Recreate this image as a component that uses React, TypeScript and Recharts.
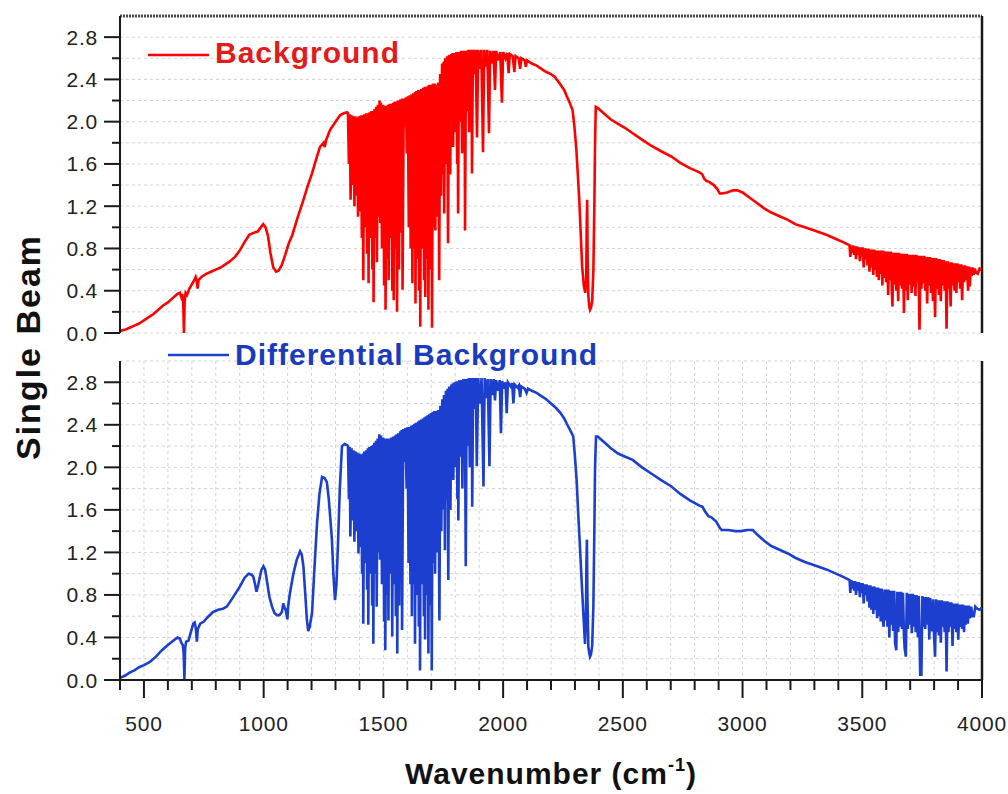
import React from "react";
import { LineChart, Line, XAxis, YAxis, CartesianGrid, ReferenceLine } from "recharts";

// ---------- tick values / labels ----------
const xTickValues = [400, 500, 600, 700, 800, 900, 1000, 1100, 1200, 1300, 1400, 1500, 1600, 1700, 1800, 1900, 2000, 2100, 2200, 2300, 2400, 2500, 2600, 2700, 2800, 2900, 3000, 3100, 3200, 3300, 3400, 3500, 3600, 3700, 3800, 3900, 4000];
const xTickLabels = ["500", "1000", "1500", "2000", "2500", "3000", "3500", "4000"];
const yTickValues = [0, 0.2, 0.4, 0.6, 0.8, 1.0, 1.2, 1.4, 1.6, 1.8, 2.0, 2.2, 2.4, 2.6, 2.8];
const yTickLabels = ["0.0", "0.4", "0.8", "1.2", "1.6", "2.0", "2.4", "2.8"];

// ---------- Background (red) spectrum: [wavenumber, single beam] ----------
const backgroundLowBand: [number, number][] = [
  [400, 0.02], [420, 0.03], [440, 0.05], [460, 0.07], [480, 0.09], [500, 0.12], [520, 0.15], [540, 0.18], [560, 0.22], [580, 0.26],
  [600, 0.29], [620, 0.33], [640, 0.37], [650, 0.38], [656, 0.34], [660, 0.37], [664, 0.30], [667, 0.0], [670, 0.30], [674, 0.38],
  [680, 0.36], [690, 0.42], [700, 0.46], [710, 0.50], [716, 0.53], [720, 0.50], [724, 0.42], [728, 0.50], [740, 0.53], [760, 0.56],
  [780, 0.58], [800, 0.60], [820, 0.62], [840, 0.65], [860, 0.68], [880, 0.72], [900, 0.78], [920, 0.86], [940, 0.93], [960, 0.95],
  [975, 0.96], [985, 0.99], [998, 1.03], [1008, 1.0], [1018, 0.92], [1028, 0.76], [1040, 0.62], [1052, 0.58], [1062, 0.59], [1075, 0.64],
  [1090, 0.74], [1105, 0.85], [1120, 0.93], [1140, 1.08], [1166, 1.26], [1185, 1.40], [1202, 1.51], [1220, 1.65], [1235, 1.76], [1250, 1.80],
  [1255, 1.76], [1260, 1.82], [1277, 1.92], [1300, 2.0], [1319, 2.06], [1335, 2.08], [1348, 2.09],
];
const backgroundWaterBand: [number, number][] = [
  [1352, 2.08], [1356, 1.60], [1360, 2.07], [1363, 1.26], [1367, 2.06], [1371, 1.40], [1375, 2.05], [1379, 1.20], [1383, 2.05], [1387, 1.30],
  [1391, 2.04], [1394, 1.10], [1398, 2.05], [1402, 1.15], [1406, 2.06], [1410, 0.90], [1413, 2.06], [1416, 0.50], [1420, 2.07], [1424, 1.00],
  [1428, 2.08], [1432, 0.75], [1436, 2.08], [1438, 0.47], [1442, 2.09], [1446, 0.90], [1450, 2.10], [1454, 0.60], [1457, 2.10], [1459, 0.29],
  [1463, 2.12], [1467, 0.90], [1470, 2.14], [1473, 0.67], [1477, 2.16], [1481, 1.10], [1484, 2.20], [1487, 1.04], [1490, 2.18], [1494, 0.80],
  [1499, 2.16], [1503, 0.45], [1507, 2.15], [1509, 0.22], [1513, 2.15], [1517, 0.70], [1520, 2.16], [1522, 0.50], [1526, 2.17], [1530, 0.90],
  [1534, 2.17], [1537, 0.40], [1541, 2.18], [1543, 0.31], [1547, 2.19], [1551, 0.80], [1554, 2.19], [1557, 0.20], [1561, 2.20], [1565, 0.60],
  [1570, 2.21], [1574, 0.95], [1578, 2.22], [1580, 0.41], [1585, 2.22], [1590, 1.95], [1594, 2.23], [1598, 1.70], [1602, 2.24], [1606, 1.00],
  [1610, 2.25], [1614, 0.80], [1618, 2.26], [1621, 0.47], [1625, 2.27], [1629, 0.80], [1632, 2.28], [1634, 0.28], [1638, 2.29], [1642, 0.70],
  [1646, 2.30], [1649, 0.40], [1652, 2.30], [1654, 0.06], [1658, 2.31], [1662, 0.80], [1666, 2.32], [1670, 0.50], [1673, 2.33], [1675, 0.34],
  [1679, 2.33], [1683, 0.70], [1686, 2.34], [1688, 0.22], [1692, 2.35], [1696, 0.60], [1700, 2.35], [1703, 0.05], [1707, 2.36], [1711, 1.00],
  [1714, 2.36], [1717, 0.97], [1721, 2.35], [1725, 1.10], [1729, 2.37], [1733, 0.50], [1737, 2.45], [1741, 1.30], [1745, 2.55], [1750, 1.50],
  [1752, 2.57], [1754, 1.13], [1758, 2.60], [1762, 1.60], [1766, 2.62], [1770, 0.85], [1774, 2.63], [1779, 1.50], [1783, 2.64], [1787, 1.80],
  [1789, 2.65], [1791, 1.76], [1796, 2.65], [1801, 1.90], [1805, 2.66], [1808, 1.60], [1810, 2.66], [1812, 1.13], [1816, 2.66], [1820, 2.00],
  [1824, 2.67], [1829, 1.70], [1833, 2.67], [1837, 2.00], [1839, 2.67], [1841, 0.97], [1845, 2.67], [1850, 2.10], [1854, 2.68], [1858, 1.90],
  [1862, 2.68], [1866, 2.20], [1868, 2.68], [1870, 1.51], [1874, 2.68], [1880, 2.45], [1885, 2.68], [1891, 1.85], [1896, 2.68], [1903, 2.50],
  [1909, 2.68], [1916, 1.71], [1921, 2.68], [1928, 2.52], [1934, 2.68], [1941, 1.89], [1946, 2.67], [1954, 2.55], [1960, 2.67], [1966, 2.30],
  [1971, 2.67], [1980, 2.58], [1988, 2.66], [1995, 2.18], [2000, 2.66], [2010, 2.60], [2017, 2.65], [2023, 2.46], [2028, 2.64], [2040, 2.62],
  [2047, 2.47], [2052, 2.62], [2065, 2.60], [2071, 2.50], [2076, 2.60], [2090, 2.58], [2095, 2.52], [2100, 2.58], [2120, 2.55], [2140, 2.53],
  [2160, 2.50], [2180, 2.47], [2200, 2.45],
];
const backgroundCO2Band: [number, number][] = [
  [2217, 2.42], [2240, 2.35], [2255, 2.30], [2266, 2.24], [2278, 2.18], [2290, 2.11], [2298, 1.95], [2306, 1.73], [2312, 1.50], [2318, 1.26],
  [2324, 0.95], [2330, 0.63], [2337, 0.45], [2343, 0.38], [2347, 0.50], [2349, 1.00], [2351, 1.26], [2353, 0.70], [2356, 0.35], [2360, 0.25],
  [2363, 0.22], [2367, 0.24], [2372, 0.30], [2377, 0.60], [2381, 1.20], [2384, 1.80], [2387, 2.14], [2395, 2.13],
];
const backgroundHighBand: [number, number][] = [
  [2420, 2.08], [2450, 2.02], [2480, 1.98], [2510, 1.94], [2541, 1.89], [2580, 1.83], [2620, 1.77], [2660, 1.72], [2703, 1.67], [2740, 1.61],
  [2780, 1.56], [2820, 1.52], [2832, 1.50], [2840, 1.46], [2849, 1.44], [2860, 1.43], [2880, 1.40], [2895, 1.36], [2905, 1.32], [2915, 1.32],
  [2935, 1.33], [2960, 1.35], [2978, 1.35], [3000, 1.33], [3030, 1.28], [3060, 1.23], [3090, 1.18], [3120, 1.14], [3150, 1.11], [3189, 1.07],
  [3220, 1.03], [3260, 1.00], [3300, 0.97], [3350, 0.93], [3390, 0.89], [3420, 0.86], [3447, 0.83],
  [3450, 0.72], [3454, 0.83], [3458, 0.76], [3462, 0.83], [3466, 0.74], [3470, 0.82], [3474, 0.70], [3478, 0.82], [3482, 0.74], [3486, 0.81],
  [3490, 0.68], [3494, 0.81], [3498, 0.72], [3502, 0.81], [3506, 0.62], [3510, 0.80], [3514, 0.70], [3518, 0.80], [3522, 0.64], [3526, 0.80],
  [3530, 0.58], [3534, 0.79], [3538, 0.62], [3542, 0.79], [3546, 0.55], [3550, 0.79], [3554, 0.60], [3558, 0.78], [3561, 0.53], [3565, 0.78],
  [3569, 0.50], [3573, 0.78], [3577, 0.56], [3581, 0.78], [3584, 0.45], [3588, 0.78], [3592, 0.52], [3596, 0.77], [3600, 0.48], [3604, 0.77],
  [3608, 0.36], [3612, 0.77], [3616, 0.50], [3620, 0.77], [3623, 0.42], [3626, 0.25], [3630, 0.76], [3634, 0.46], [3638, 0.76], [3642, 0.40],
  [3646, 0.76], [3650, 0.30], [3654, 0.76], [3658, 0.45], [3662, 0.75], [3666, 0.42], [3670, 0.75], [3674, 0.19], [3678, 0.75], [3682, 0.40],
  [3686, 0.75], [3690, 0.31], [3694, 0.74], [3698, 0.46], [3702, 0.74], [3706, 0.38], [3710, 0.74], [3714, 0.44], [3718, 0.74], [3722, 0.35],
  [3726, 0.74], [3730, 0.48], [3734, 0.73], [3739, 0.03], [3743, 0.73], [3747, 0.42], [3751, 0.73], [3755, 0.47], [3759, 0.73], [3763, 0.40],
  [3767, 0.72], [3771, 0.28], [3775, 0.72], [3779, 0.45], [3783, 0.72], [3787, 0.38], [3791, 0.71], [3795, 0.30], [3799, 0.71], [3804, 0.15],
  [3808, 0.71], [3812, 0.42], [3816, 0.70], [3820, 0.36], [3824, 0.70], [3828, 0.30], [3832, 0.69], [3836, 0.45], [3840, 0.69], [3844, 0.40],
  [3848, 0.68], [3852, 0.04], [3856, 0.68], [3860, 0.42], [3864, 0.67], [3869, 0.25], [3873, 0.67], [3877, 0.45], [3881, 0.66], [3885, 0.40],
  [3889, 0.66], [3893, 0.38], [3897, 0.66], [3901, 0.48], [3905, 0.65], [3909, 0.42], [3913, 0.65], [3917, 0.31], [3921, 0.64], [3925, 0.48],
  [3929, 0.64], [3933, 0.50], [3937, 0.63], [3942, 0.40], [3946, 0.63], [3949, 0.44], [3953, 0.62], [3957, 0.54], [3961, 0.62], [3965, 0.55],
  [3970, 0.61], [3975, 0.57], [3982, 0.56], [3990, 0.61], [4000, 0.60],
];

// ---------- Differential Background (blue) spectrum ----------
const differentialLowBand: [number, number][] = [
  [400, 0.02], [420, 0.04], [440, 0.07], [460, 0.09], [480, 0.12], [500, 0.14], [525, 0.17], [550, 0.22], [575, 0.28], [600, 0.33],
  [622, 0.37], [640, 0.40], [650, 0.39], [656, 0.35], [662, 0.33], [666, 0.25], [669, 0.01], [672, 0.30], [676, 0.36], [686, 0.37],
  [696, 0.45], [706, 0.53], [712, 0.54], [717, 0.48], [721, 0.36], [725, 0.48], [735, 0.53], [750, 0.55], [770, 0.60], [789, 0.64],
  [810, 0.66], [830, 0.67], [846, 0.69], [870, 0.77], [901, 0.88], [920, 0.96], [937, 1.00], [950, 0.99], [957, 0.97], [964, 0.90],
  [970, 0.83], [978, 0.90], [990, 1.03], [999, 1.07], [1006, 1.04], [1013, 0.94], [1024, 0.78], [1035, 0.69], [1045, 0.63], [1055, 0.61],
  [1066, 0.61], [1076, 0.64], [1082, 0.72], [1087, 0.68], [1092, 0.66], [1097, 0.60], [1099, 0.57], [1102, 0.69], [1110, 0.82], [1124, 1.00],
  [1138, 1.13], [1152, 1.21], [1159, 1.18], [1166, 1.07], [1174, 0.80], [1180, 0.58], [1186, 0.46], [1192, 0.50], [1202, 0.63], [1212, 1.05],
  [1223, 1.48], [1233, 1.75], [1244, 1.91], [1254, 1.90], [1264, 1.86], [1272, 1.70], [1279, 1.50], [1285, 1.32], [1291, 1.00], [1298, 0.75],
  [1304, 0.90], [1311, 1.32], [1318, 1.80], [1327, 2.20], [1338, 2.22], [1348, 2.21],
];
const differentialWaterBand: [number, number][] = [
  [1352, 2.20], [1356, 1.70], [1360, 2.19], [1362, 1.35], [1367, 2.18], [1371, 1.50], [1375, 2.16], [1379, 1.30], [1383, 2.15], [1387, 1.40],
  [1391, 2.14], [1396, 1.19], [1400, 2.13], [1403, 1.25], [1407, 2.12], [1411, 1.00], [1414, 2.13], [1416, 0.53], [1420, 2.15], [1424, 1.10],
  [1428, 2.16], [1432, 0.85], [1435, 2.18], [1437, 0.52], [1441, 2.19], [1446, 1.00], [1450, 2.20], [1453, 0.70], [1456, 2.21], [1458, 0.34],
  [1462, 2.23], [1466, 1.00], [1469, 2.25], [1472, 0.69], [1476, 2.27], [1480, 1.20], [1483, 2.31], [1486, 1.13], [1490, 2.30], [1494, 0.90],
  [1499, 2.28], [1503, 0.55], [1506, 2.27], [1508, 0.28], [1512, 2.27], [1516, 0.80], [1519, 2.27], [1521, 0.56], [1525, 2.27], [1529, 1.00],
  [1533, 2.28], [1537, 0.41], [1541, 2.29], [1545, 0.90], [1549, 2.30], [1552, 0.60], [1555, 2.31], [1558, 0.25], [1562, 2.32], [1566, 0.70],
  [1570, 2.34], [1573, 1.05], [1576, 2.35], [1578, 0.47], [1583, 2.36], [1588, 2.05], [1592, 2.37], [1597, 1.80], [1601, 2.38], [1605, 1.10],
  [1609, 2.38], [1613, 0.90], [1616, 2.39], [1619, 0.60], [1623, 2.40], [1627, 0.90], [1630, 2.41], [1632, 0.34], [1636, 2.42], [1641, 0.80],
  [1645, 2.43], [1648, 0.50], [1651, 2.44], [1653, 0.09], [1657, 2.45], [1661, 0.90], [1665, 2.46], [1669, 0.60], [1672, 2.47], [1674, 0.38],
  [1678, 2.48], [1682, 0.80], [1685, 2.49], [1688, 0.25], [1692, 2.50], [1696, 0.70], [1699, 2.51], [1702, 0.09], [1706, 2.52], [1710, 1.10],
  [1713, 2.53], [1716, 1.00], [1720, 2.53], [1724, 1.20], [1728, 2.54], [1734, 0.56], [1738, 2.58], [1742, 1.40], [1746, 2.64], [1750, 1.60],
  [1753, 2.68], [1757, 1.22], [1761, 2.72], [1765, 1.70], [1768, 2.74], [1771, 0.94], [1775, 2.76], [1780, 1.60], [1784, 2.78], [1788, 1.90],
  [1790, 2.79], [1792, 1.88], [1797, 2.80], [1802, 2.00], [1806, 2.81], [1809, 1.70], [1811, 2.81], [1813, 1.50], [1817, 2.82], [1821, 2.10],
  [1825, 2.82], [1830, 1.80], [1834, 2.83], [1838, 2.10], [1840, 2.83], [1844, 1.07], [1848, 2.83], [1853, 2.20], [1857, 2.84], [1861, 2.00],
  [1865, 2.84], [1867, 2.30], [1869, 2.84], [1871, 1.63], [1875, 2.84], [1881, 2.55], [1886, 2.84], [1890, 2.01], [1896, 2.84], [1904, 2.60],
  [1910, 2.84], [1918, 1.82], [1923, 2.84], [1930, 2.65], [1936, 2.83], [1943, 2.01], [1948, 2.83], [1956, 2.68], [1961, 2.83], [1966, 2.63],
  [1971, 2.82], [1980, 2.72], [1986, 2.82], [1991, 2.32], [1996, 2.81], [2005, 2.74], [2010, 2.80], [2015, 2.51], [2020, 2.80], [2032, 2.76],
  [2038, 2.79], [2043, 2.60], [2048, 2.78], [2060, 2.75], [2066, 2.77], [2071, 2.66], [2076, 2.76], [2090, 2.74], [2098, 2.70], [2104, 2.74],
  [2120, 2.72], [2140, 2.70], [2160, 2.67], [2180, 2.64], [2200, 2.60],
];
const differentialCO2Band: [number, number][] = [
  [2220, 2.56], [2240, 2.51], [2255, 2.46], [2266, 2.41], [2280, 2.35], [2293, 2.29], [2300, 2.10], [2307, 1.88], [2314, 1.55], [2321, 1.25],
  [2328, 0.93], [2335, 0.63], [2342, 0.34], [2346, 0.60], [2348, 1.10], [2350, 1.32], [2352, 0.80], [2356, 0.31], [2360, 0.25], [2363, 0.22],
  [2367, 0.24], [2372, 0.32], [2377, 0.70], [2381, 1.40], [2384, 2.00], [2388, 2.29], [2395, 2.29],
];
const differentialHighBand: [number, number][] = [
  [2420, 2.24], [2450, 2.18], [2480, 2.13], [2510, 2.10], [2541, 2.07], [2580, 2.00], [2620, 1.94], [2660, 1.88], [2703, 1.82], [2740, 1.75],
  [2780, 1.69], [2820, 1.64], [2832, 1.63], [2845, 1.58], [2857, 1.54], [2870, 1.53], [2890, 1.49], [2905, 1.43], [2913, 1.41], [2940, 1.41],
  [2970, 1.40], [2994, 1.40], [3020, 1.41], [3043, 1.41], [3060, 1.37], [3090, 1.31], [3120, 1.26], [3150, 1.23], [3189, 1.19], [3220, 1.15],
  [3260, 1.11], [3300, 1.08], [3350, 1.04], [3390, 1.00], [3420, 0.97], [3447, 0.94],
  [3450, 0.82], [3454, 0.94], [3458, 0.86], [3462, 0.93], [3466, 0.84], [3470, 0.93], [3474, 0.80], [3478, 0.92], [3482, 0.84], [3486, 0.92],
  [3490, 0.78], [3494, 0.91], [3498, 0.82], [3502, 0.91], [3506, 0.72], [3510, 0.90], [3514, 0.80], [3518, 0.90], [3522, 0.74], [3526, 0.89],
  [3530, 0.68], [3534, 0.89], [3538, 0.66], [3542, 0.88], [3546, 0.62], [3550, 0.88], [3554, 0.66], [3558, 0.87], [3562, 0.58], [3566, 0.87],
  [3570, 0.60], [3574, 0.86], [3577, 0.55], [3581, 0.86], [3585, 0.58], [3589, 0.50], [3593, 0.85], [3597, 0.56], [3601, 0.85], [3605, 0.50],
  [3609, 0.85], [3613, 0.40], [3617, 0.84], [3621, 0.52], [3625, 0.84], [3629, 0.46], [3633, 0.84], [3637, 0.35], [3642, 0.28], [3646, 0.83],
  [3650, 0.45], [3654, 0.83], [3658, 0.50], [3662, 0.83], [3666, 0.48], [3670, 0.82], [3674, 0.42], [3677, 0.30], [3682, 0.22], [3686, 0.82],
  [3690, 0.48], [3694, 0.81], [3698, 0.52], [3702, 0.81], [3707, 0.44], [3711, 0.81], [3715, 0.50], [3719, 0.80], [3723, 0.45], [3727, 0.80],
  [3732, 0.40], [3736, 0.79], [3742, 0.05], [3747, 0.05], [3751, 0.79], [3755, 0.50], [3759, 0.78], [3763, 0.48], [3767, 0.78], [3771, 0.52],
  [3775, 0.78], [3780, 0.38], [3784, 0.77], [3788, 0.48], [3792, 0.46], [3796, 0.76], [3800, 0.40], [3804, 0.22], [3808, 0.76], [3812, 0.45],
  [3816, 0.75], [3820, 0.42], [3824, 0.75], [3828, 0.35], [3832, 0.75], [3836, 0.50], [3840, 0.74], [3844, 0.45], [3848, 0.74], [3852, 0.08],
  [3856, 0.74], [3860, 0.45], [3864, 0.73], [3868, 0.50], [3872, 0.73], [3877, 0.32], [3881, 0.72], [3885, 0.48], [3889, 0.72], [3893, 0.45],
  [3897, 0.72], [3901, 0.38], [3905, 0.71], [3909, 0.50], [3913, 0.71], [3917, 0.48], [3921, 0.71], [3925, 0.45], [3929, 0.70], [3933, 0.52],
  [3937, 0.70], [3941, 0.53], [3945, 0.70], [3949, 0.58], [3955, 0.69], [3960, 0.60], [3966, 0.60], [3972, 0.69], [3980, 0.67], [3990, 0.66],
  [4000, 0.68],
];

const toRows = (parts: [number, number][][]) =>
  parts.flat().map(([wn, beam]) => ({ wn, beam }));

const backgroundData = toRows([backgroundLowBand, backgroundWaterBand, backgroundCO2Band, backgroundHighBand]);
const differentialData = toRows([differentialLowBand, differentialWaterBand, differentialCO2Band, differentialHighBand]);

const RED = "#ff0000";
const BLUE = "#1c3fd0";
const AXIS = "#1a1a1a";
const FONT = "'Liberation Sans', Arial, sans-serif";

const YTick = (props: any) => {
  const { x, y, payload } = props;
  const v = payload.value as number;
  const major = Math.round(v * 10) % 4 === 0;
  const label = yTickLabels[Math.round(v * 10) / 4];
  return (
    <g>
      <line x1={x - (major ? 16 : 8)} x2={x} y1={y} y2={y} stroke={AXIS} strokeWidth={2} />
      {major && (
        <text x={x - 22} y={y} dy="0.36em" textAnchor="end" fontFamily={FONT} fontSize={21} letterSpacing={0.8} fill="#222">
          {label}
        </text>
      )}
    </g>
  );
};

const XTick = (props: any) => {
  const { x, y, payload } = props;
  const v = payload.value as number;
  const major = v % 500 === 0;
  const label = xTickLabels[v / 500 - 1];
  return (
    <g>
      <line x1={x} x2={x} y1={y} y2={y + (major ? 18 : 10)} stroke={AXIS} strokeWidth={2} />
      {major && (
        <text x={x} y={y + 51} textAnchor="middle" fontFamily={FONT} fontSize={21} letterSpacing={0.8} fill="#222">
          {label}
        </text>
      )}
    </g>
  );
};

export default function App() {
  return (
    <div style={{ position: "absolute", left: 0, top: 0, width: 1008, height: 794, background: "#fff", overflow: "hidden" }}>
      {/* Top panel: Background */}
      <div style={{ position: "absolute", left: 0, top: 0 }}>
        <LineChart width={1008} height={345} data={backgroundData} margin={{ top: 16, right: 26, bottom: 12, left: 0 }}>
          <CartesianGrid stroke="#d4d4d4" strokeDasharray="3 3" />
          <XAxis type="number" dataKey="wn" domain={[400, 4000]} ticks={xTickValues} axisLine={false} tickLine={false} tick={false} height={0} />
          <YAxis type="number" domain={[0, 3]} ticks={yTickValues} width={120} tickSize={0} tickMargin={0} tickLine={false}
            axisLine={{ stroke: AXIS, strokeWidth: 2 }} tick={<YTick />} interval={0} />
          <ReferenceLine y={3} stroke="#4a4a4a" strokeWidth={3} strokeDasharray="2 1" />
          <ReferenceLine x={4000} stroke={AXIS} strokeWidth={2.5} />
          <Line type="linear" dataKey="beam" stroke={RED} strokeWidth={2.6} dot={false} isAnimationActive={false} />
        </LineChart>
      </div>
      {/* Bottom panel: Differential Background */}
      <div style={{ position: "absolute", left: 0, top: 345 }}>
        <LineChart width={1008} height={449} data={differentialData} margin={{ top: 16, right: 26, bottom: 54, left: 0 }}>
          <CartesianGrid stroke="#d4d4d4" strokeDasharray="3 3" />
          <XAxis type="number" dataKey="wn" domain={[400, 4000]} ticks={xTickValues} height={60} tickSize={0} tickMargin={0}
            tickLine={false} axisLine={{ stroke: AXIS, strokeWidth: 2 }} tick={<XTick />} interval={0} />
          <YAxis type="number" domain={[0, 3]} ticks={yTickValues} width={120} tickSize={0} tickMargin={0} tickLine={false}
            axisLine={{ stroke: AXIS, strokeWidth: 2 }} tick={<YTick />} interval={0} />
          <ReferenceLine x={4000} stroke={AXIS} strokeWidth={2.5} />
          <Line type="linear" dataKey="beam" stroke={BLUE} strokeWidth={2.6} dot={false} isAnimationActive={false} />
        </LineChart>
      </div>
      {/* Legends and axis titles */}
      <svg width={1008} height={794} style={{ position: "absolute", left: 0, top: 0, pointerEvents: "none" }}>
        <line x1={148} x2={209} y1={55} y2={55} stroke={RED} strokeWidth={2.5} />
        <text x={215} y={63} fontFamily={FONT} fontWeight="bold" fontSize={30} letterSpacing={1} fill="#e31b1b">Background</text>
        <line x1={168} x2={229} y1={355} y2={355} stroke={BLUE} strokeWidth={2.5} />
        <text x={235} y={365} fontFamily={FONT} fontWeight="bold" fontSize={30} letterSpacing={1} fill="#1a3bbd">Differential Background</text>
        <text transform="translate(40,347) rotate(-90)" textAnchor="middle" fontFamily={FONT} fontWeight="bold" fontSize={34}
          letterSpacing={2} fill="#111">Single Beam</text>
        <text x={405} y={784} fontFamily={FONT} fontWeight="bold" fontSize={30} letterSpacing={1} fill="#111">
          Wavenumber (cm
          <tspan dy={-13} fontSize={18}>-1</tspan>
          <tspan dy={13} fontSize={30}>)</tspan>
        </text>
      </svg>
    </div>
  );
}
